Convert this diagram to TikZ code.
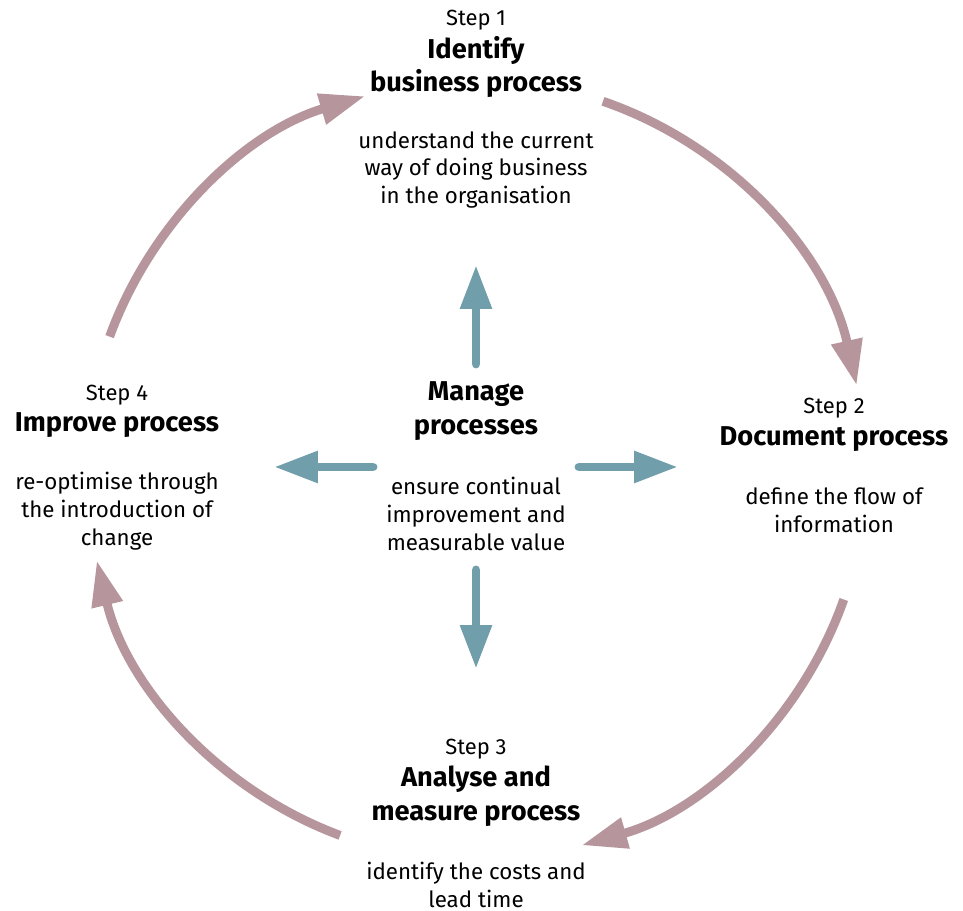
\documentclass[tikz,border=0pt]{standalone}
\usepackage{fontspec}
\setmainfont{Fira Sans}
\usetikzlibrary{arrows.meta,positioning}
\definecolor{cyclecol}{RGB}{182,150,156}
\definecolor{managecol}{RGB}{113,158,171}
\begin{document}
\begin{tikzpicture}[x=0.02cm, y=0.02cm, line join=round,
	steplbl/.style={font=\fontsize{12.5}{14}\selectfont, inner sep=0pt},
	steptitle/.style={font=\fontsize{15.5}{19.3}\selectfont\bfseries, align=center, inner sep=0pt},
	stepdesc/.style={font=\fontsize{12.7}{15.9}\selectfont, align=center, inner sep=0pt},
	cyc/.style={cyclecol, line width=5.1pt, -{Triangle[width=17pt,length=26pt]}},
	mng/.style={managecol, line width=5.1pt, line cap=round, -{Triangle[width=17pt,length=25pt]}}]
	\useasboundingbox (0,0) rectangle (963,911);
	\def\rad{7.8cm}
	\coordinate (hub) at (476,441);
	\coordinate (mid) at (476,444);
	% the four steps
	\node[steplbl] (lbl1) at (476,891) {Step 1};
	\node[steptitle] (ttl1) at (476,844) {Identify\\business process};
	\node[stepdesc] (dsc1) at (476,741) {understand the current\\way of doing business\\in the organisation};
	\node[steplbl] (lbl2) at (834,503) {Step 2};
	\node[steptitle] (ttl2) at (834,472) {Document process};
	\node[stepdesc] (dsc2) at (834,401) {define the flow of\\information};
	\node[steplbl] (lbl3) at (476,162) {Step 3};
	\node[steptitle] (ttl3) at (476,115) {Analyse and\\measure process};
	\node[stepdesc] (dsc3) at (476,26) {identify the costs and\\lead time};
	\node[steplbl] (lbl4) at (117,516) {Step 4};
	\node[steptitle] (ttl4) at (117,486) {Improve process};
	\node[stepdesc] (dsc4) at (117,400) {re-optimise through\\the introduction of\\change};
	% centre
	\node[steptitle] (ttl0) at (476,500) {Manage\\processes};
	\node[stepdesc] (dsc0) at (476,397) {ensure continual\\improvement and\\measurable value};
	% cycle arcs
	\foreach \a/\b in {71/12.5, -19.4/-74.3, 249.6/193.4, 160/106.5}
		\draw[cyc] (hub) ++(\a:\rad) arc[start angle=\a, end angle=\b, radius=\rad];
	% arrows out of the centre
	\foreach \d in {90,0,180,270}
		\draw[mng] (mid) ++(\d:103) -- ++(\d:99);
\end{tikzpicture}
\end{document}
